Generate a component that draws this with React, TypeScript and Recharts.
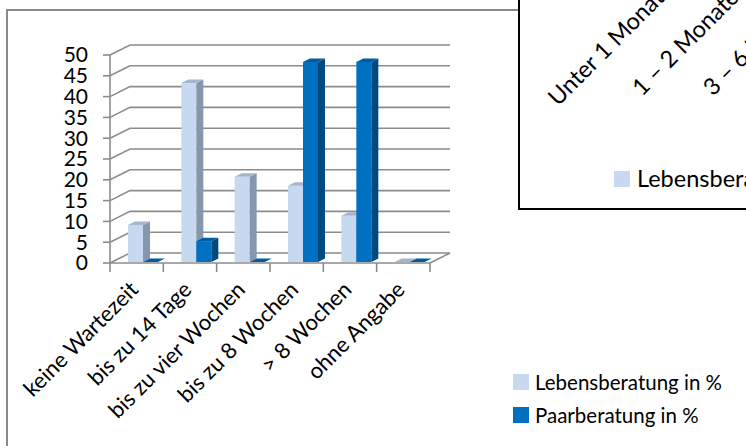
import React from "react";
import { BarChart, Bar, XAxis, YAxis, CartesianGrid, Legend } from "recharts";

// Wartezeit bis zum Erstgespräch, Anteile in %
const categories = [
  "keine Wartezeit",
  "bis zu 14 Tage",
  "bis zu vier Wochen",
  "bis zu 8 Wochen",
  "> 8 Wochen",
  "ohne Angabe",
];
const lebensberatung = [8.9, 43.0, 20.5, 18.3, 11.1, 0];
const paarberatung = [0, 5.0, 0, 48.1, 48.1, 0];
const yTicks = [0, 5, 10, 15, 20, 25, 30, 35, 40, 45, 50];

// labels of the neighbouring chart that overlaps the top right corner
const otherCategories = ["Unter 1 Monat", "1 – 2 Monate", "3 – 6 Monate"];
const otherLegend = "Lebensberatung in %";

const data = categories.map((cat, i) => ({
  cat,
  leben: lebensberatung[i],
  paar: paarberatung[i],
}));

const W = 746;
const H = 446;
const PLOT_LEFT = 110;
const PLOT_RIGHT = 430;
const PLOT_TOP = 55;
const PLOT_BOTTOM = 263;
const WALL_DX = 20;
const WALL_DY = 10;
const BAR_DX = 7;
const BAR_DY = 3.5;
const BAR_SHIFT = 6;
const BAND = (PLOT_RIGHT - PLOT_LEFT) / categories.length;
const GRID = "#8c8c8c";
const FONT = "Lato, 'Open Sans', sans-serif";
const FS = 21;
const FS_CAT = 22;
const FS_LEGEND = 20.5;
const FS_OTHER = 23.5;

const LIGHT = { front: "#c6d9f1", side: "#8497ad", top: "#a3b6cc" };
const DARK = { front: "#0070c0", side: "#004a80", top: "#005c9e" };

// pseudo 3D column: front face, right side and top face
function column(c: { front: string; side: string; top: string }) {
  return (props: any) => {
    const { x, y, width, height } = props;
    if (x == null || y == null) return <g />;
    const bx = x + BAR_SHIFT;
    const by = y - 1;
    const h = Math.max(height || 0, 0);
    const w = width;
    return (
      <g>
        <rect x={bx} y={by} width={w} height={h} fill={c.front} />
        <polygon
          points={`${bx + w},${by} ${bx + w + BAR_DX},${by - BAR_DY} ${bx + w + BAR_DX},${by + h - BAR_DY} ${bx + w},${by + h}`}
          fill={c.side}
        />
        <polygon
          points={`${bx},${by} ${bx + BAR_DX},${by - BAR_DY} ${bx + w + BAR_DX},${by - BAR_DY} ${bx + w},${by}`}
          fill={c.top}
        />
      </g>
    );
  };
}

// wall lines: left side wall diagonal, then back wall; the zero line closes the floor
const wallLine = (p: any) => {
  const { x1, y1, x2 } = p;
  const floor = Math.abs(y1 - PLOT_BOTTOM) < 1;
  let pts = `${x1},${y1} ${x1 + WALL_DX},${y1 - WALL_DY} ${x2 + WALL_DX},${y1 - WALL_DY}`;
  if (floor) pts += ` ${x2},${y1}`;
  return (
    <polyline
      key={`wall-${p.index}-${y1}`}
      points={pts}
      fill="none"
      stroke={GRID}
      strokeWidth={1.6}
    />
  );
};

const CatTick = (props: any) => {
  const { x, payload, index } = props;
  const half = BAND / 2;
  return (
    <g>
      <line x1={x - half} y1={PLOT_BOTTOM} x2={x - half} y2={PLOT_BOTTOM + 9} stroke={GRID} strokeWidth={1.6} />
      {index === categories.length - 1 && (
        <line x1={x + half} y1={PLOT_BOTTOM} x2={x + half} y2={PLOT_BOTTOM + 9} stroke={GRID} strokeWidth={1.6} />
      )}
      <text
        transform={`translate(${x + 3},${PLOT_BOTTOM + 28}) rotate(-45)`}
        textAnchor="end"
        fontSize={FS_CAT}
        fontFamily={FONT}
        fill="#000"
      >
        {payload.value}
      </text>
    </g>
  );
};

const renderLegend = (p: any) => (
  <div style={{ fontFamily: FONT, fontSize: FS_LEGEND, color: "#000" }}>
    {(p.payload || []).map((e: any) => (
      <div key={e.value} style={{ display: "flex", alignItems: "center", height: 33.5 }}>
        <span style={{ width: 16, height: 16, background: e.color, marginRight: 6, display: "inline-block" }} />
        <span>{e.value}</span>
      </div>
    ))}
  </div>
);

// where the overlapping chart's labels begin
const otherLabelStart = [
  [558, 107],
  [642, 97],
  [713, 97],
];

export default function App() {
  return (
    <div
      style={{
        position: "absolute",
        left: 0,
        top: 0,
        width: W,
        height: H,
        overflow: "hidden",
        background: "#fff",
        fontFamily: FONT,
      }}
    >
      <div
        style={{
          position: "absolute",
          left: 6,
          top: 9,
          width: 800,
          height: 480,
          border: "2px solid #898989",
          boxSizing: "border-box",
        }}
      />
      <div style={{ position: "absolute", left: 0, top: 0 }}>
        <BarChart
          width={W}
          height={H}
          data={data}
          margin={{ top: PLOT_TOP, right: W - PLOT_RIGHT, bottom: 0, left: 0 }}
          barGap={0}
          barSize={15}
        >
          <CartesianGrid vertical={false} horizontal={wallLine} />
          <XAxis
            dataKey="cat"
            interval={0}
            height={H - PLOT_BOTTOM}
            tickLine={false}
            axisLine={{ stroke: GRID, strokeWidth: 1.6 }}
            tick={<CatTick />}
          />
          <YAxis
            width={PLOT_LEFT}
            domain={[0, 50]}
            ticks={yTicks}
            interval={0}
            tickSize={7}
            tickMargin={15}
            axisLine={{ stroke: GRID, strokeWidth: 1.6 }}
            tickLine={{ stroke: GRID, strokeWidth: 1.6 }}
            tick={{ fill: "#000", fontSize: FS, fontFamily: FONT }}
          />
          <Legend
            layout="vertical"
            align="center"
            verticalAlign="middle"
            wrapperStyle={{ left: 513, top: 365, width: 232 }}
            content={renderLegend}
          />
          <Bar
            dataKey="leben"
            name="Lebensberatung in %"
            fill={LIGHT.front}
            shape={column(LIGHT)}
            isAnimationActive={false}
          />
          <Bar
            dataKey="paar"
            name="Paarberatung in %"
            fill={DARK.front}
            shape={column(DARK)}
            isAnimationActive={false}
          />
        </BarChart>
      </div>
      <svg
        width={W}
        height={H}
        style={{ position: "absolute", left: 0, top: 0, pointerEvents: "none" }}
      >
        <rect x={519} y={-10} width={300} height={219} fill="#fff" stroke="#000" strokeWidth={2} />
        {otherCategories.map((label, i) => (
          <text
            key={label}
            transform={`translate(${otherLabelStart[i][0]},${otherLabelStart[i][1]}) rotate(-45)`}
            fontSize={FS_OTHER}
            fontFamily={FONT}
            fill="#000"
          >
            {label}
          </text>
        ))}
        <rect x={614} y={171} width={16} height={16} fill={LIGHT.front} />
        <text x={637} y={187} fontSize={FS_OTHER} fontFamily={FONT} fill="#000">
          {otherLegend}
        </text>
      </svg>
    </div>
  );
}
